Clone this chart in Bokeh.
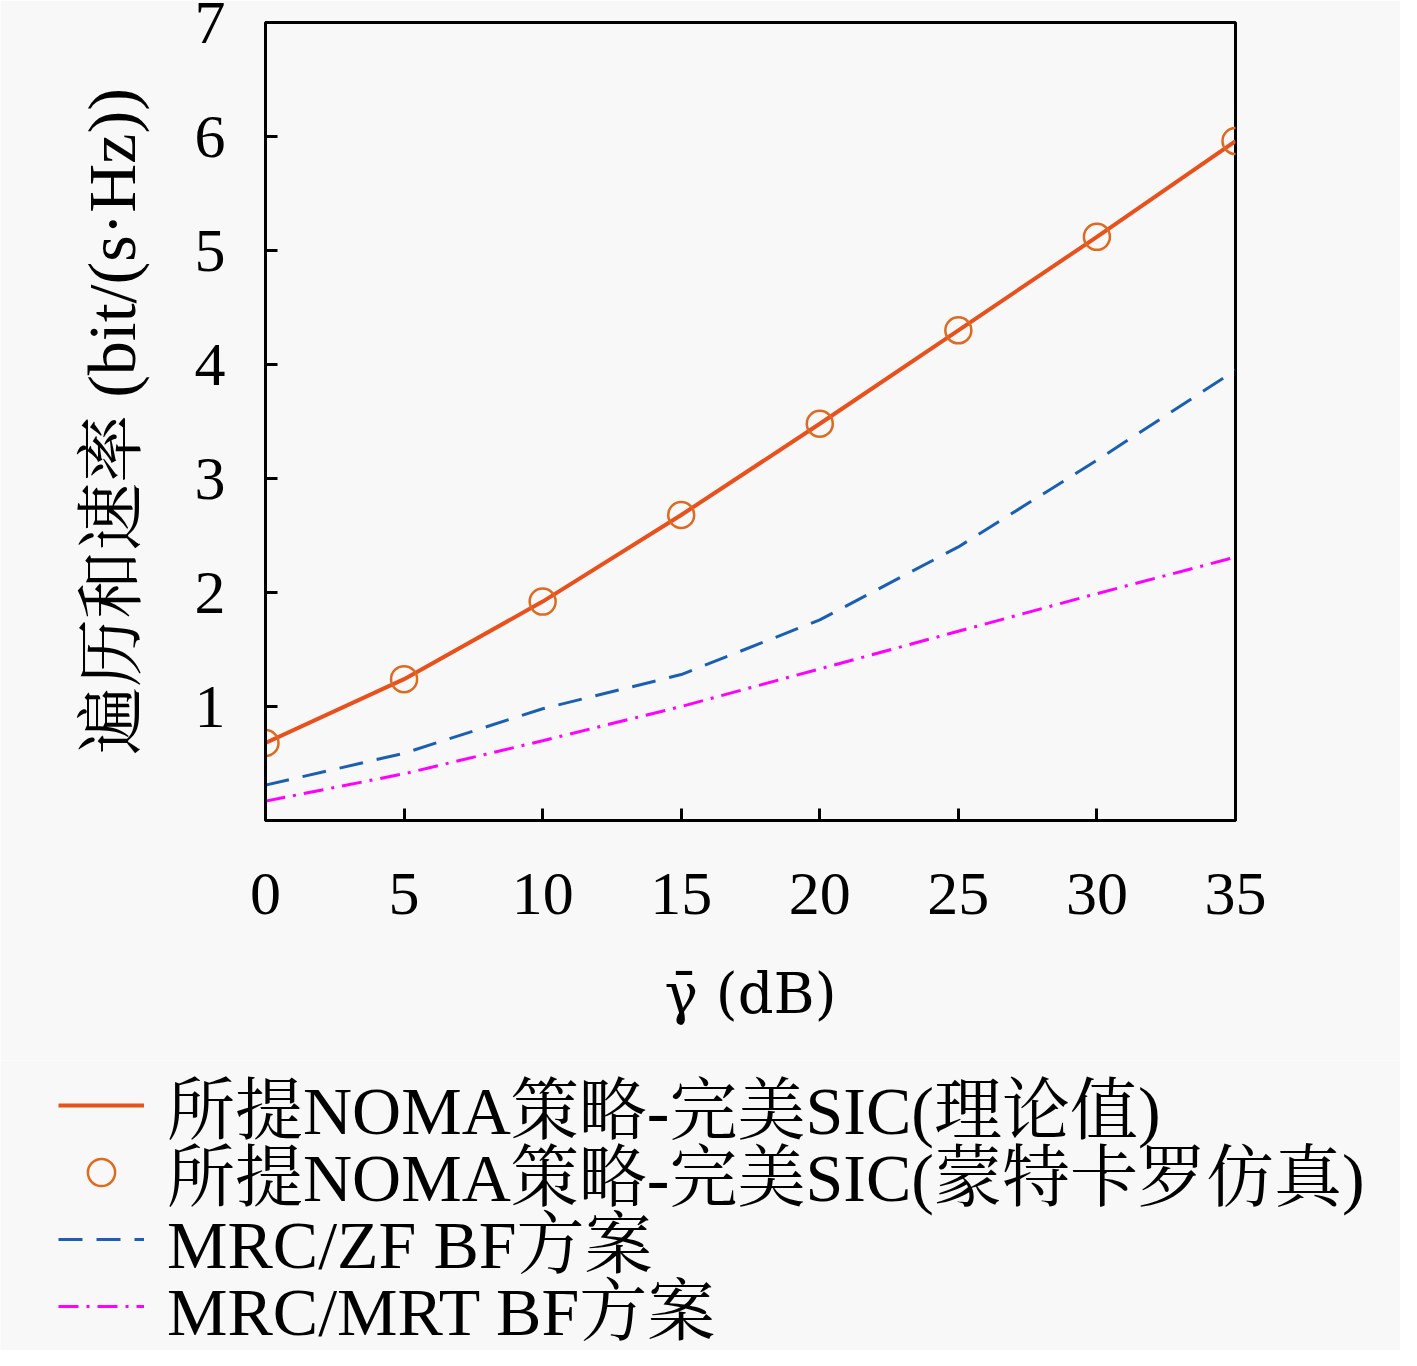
from bokeh.plotting import figure
from bokeh.models import Legend, LegendItem, FixedTicker, Range1d
from bokeh.embed import file_html
from bokeh.resources import INLINE

# ---- data ----
snr_db = [0, 5, 10, 15, 20, 25, 30, 35]
noma_theory = [0.68, 1.24, 1.92, 2.68, 3.48, 4.30, 5.12, 5.96]
noma_mc = [0.68, 1.24, 1.92, 2.68, 3.48, 4.30, 5.12, 5.96]
mrc_zf = [0.31, 0.59, 0.98, 1.28, 1.76, 2.40, 3.16, 3.95]
mrc_mrt = [0.17, 0.41, 0.70, 1.00, 1.33, 1.66, 1.99, 2.31]
x_ticks = [0, 5, 10, 15, 20, 25, 30, 35]
y_ticks = [1, 2, 3, 4, 5, 6, 7]
labels = [
    "所提NOMA策略-完美SIC(理论值)",
    "所提NOMA策略-完美SIC(蒙特卡罗仿真)",
    "MRC/ZF BF方案",
    "MRC/MRT BF方案",
]

FONT = "'Liberation Serif', 'Noto Serif CJK SC', 'Noto Sans CJK SC', serif"
XFONT = "'DejaVu Serif', 'Liberation Serif', serif"
BG = "#f8f8f8"
C_RED = "#e8501c"
C_MK = "#dd6a1e"
C_BLUE = "#1a5fb4"
C_MAG = "#ff00ff"

W = 1400
H1 = 1060
H2 = 290
FL, FR, FT, FB = 265, 1235, 22, 820

p = figure(width=W, height=H1, output_backend="svg", toolbar_location=None,
           x_range=Range1d(0, 35), y_range=Range1d(0, 7))
p.min_border_left = FL
p.min_border_right = W - FR
p.min_border_top = FT
p.min_border_bottom = H1 - FB
p.background_fill_color = BG
p.border_fill_color = BG
p.outline_line_color = "black"
p.outline_line_width = 3
p.grid.visible = False

for ax in (p.xaxis, p.yaxis):
    ax.axis_line_width = 3
    ax.major_tick_line_width = 3
    ax.major_tick_in = 12
    ax.major_tick_out = 0
    ax.minor_tick_line_color = None
    ax.major_label_text_font = FONT
    ax.major_label_text_font_size = "62px"
    ax.major_label_text_color = "black"
    ax.axis_label_text_font = FONT
    ax.axis_label_text_font_style = "normal"
    ax.axis_label_text_color = "black"

p.xaxis.ticker = FixedTicker(ticks=x_ticks)
p.yaxis.ticker = FixedTicker(ticks=y_ticks)
p.xaxis.major_label_standoff = 53
p.yaxis.major_label_standoff = 40
p.xaxis.axis_label = "γ\u0304 (dB)"
p.xaxis.axis_label_text_font = XFONT
p.xaxis.axis_label_text_font_size = "56px"
p.yaxis.axis_label = "遍历和速率 (bit/(s·Hz))"
p.yaxis.axis_label_text_font_size = "68px"
p.xaxis.axis_label_standoff = 44
p.yaxis.axis_label_standoff = 42

p.line(snr_db, noma_theory, line_color=C_RED, line_width=4)
p.scatter(snr_db, noma_mc, marker="circle", size=26, fill_color=None,
          line_color=C_MK, line_width=2.5)
p.line(snr_db, mrc_zf, line_color=C_BLUE, line_width=3, line_dash="24 14")
p.line(snr_db, mrc_mrt, line_color=C_MAG, line_width=3, line_dash="20 8 3 8")

# legend figure (same series, drawn outside its visible range so only the key shows)
q = figure(width=W, height=H2, output_backend="svg", toolbar_location=None,
           x_range=Range1d(1000, 1001), y_range=Range1d(1000, 1001))
q.min_border_left = 0
q.min_border_right = 0
q.min_border_top = 0
q.min_border_bottom = 0
q.axis.visible = False
q.grid.visible = False
q.outline_line_color = None
q.background_fill_color = BG
q.border_fill_color = BG

l1 = q.line(snr_db, noma_theory, line_color=C_RED, line_width=4)
l2 = q.scatter(snr_db, noma_mc, marker="circle", size=24, fill_color=None,
               line_color=C_MK, line_width=2.5)
l3 = q.line(snr_db, mrc_zf, line_color=C_BLUE, line_width=3, line_dash="24 14")
l4 = q.line(snr_db, mrc_mrt, line_color=C_MAG, line_width=3, line_dash="20 8 3 8")

row_offsets = [197, 130, 63, -4]
for lab, rend, vy in zip(labels, [l1, l2, l3, l4], row_offsets):
    lg = Legend(
        items=[LegendItem(label=lab, renderers=[rend])],
        location=(58, vy),
        orientation="vertical",
        spacing=0, padding=0, margin=0,
        glyph_width=86, glyph_height=68, label_height=68,
        label_standoff=23,
        label_text_font=FONT,
        label_text_font_size="68px",
        label_text_color="black",
        border_line_color=None,
        background_fill_alpha=0,
    )
    q.add_layout(lg, "center")

open("out.html", "w").write(file_html([p, q], INLINE))
